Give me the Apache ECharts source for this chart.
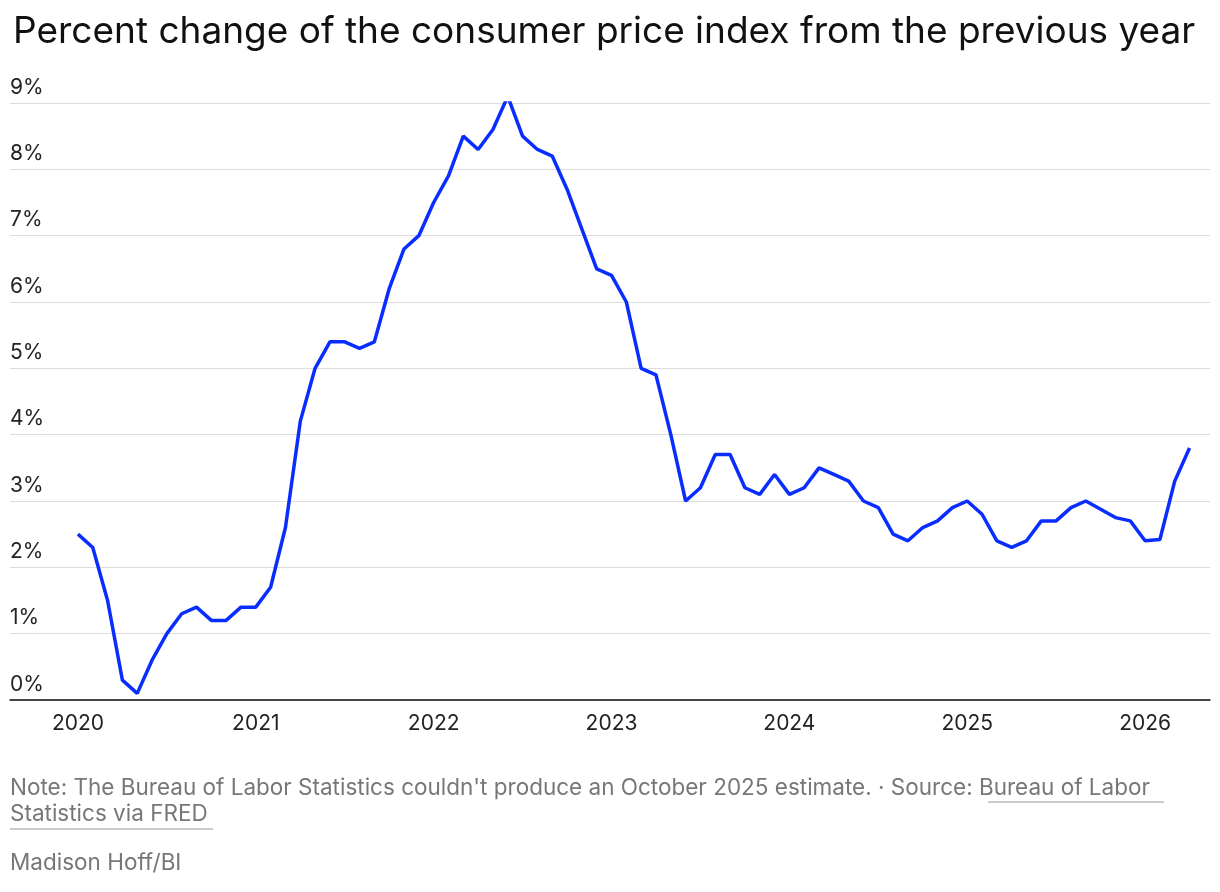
<!DOCTYPE html>
<html><head><meta charset="utf-8">
<script src="https://cdn.jsdelivr.net/npm/echarts@6/dist/echarts.min.js"></script>
<style>html,body{margin:0;padding:0;background:#fff}#c{width:1220px;height:892px}</style>
</head><body><div id="c"></div>
<script>
const years = [2020, 2021, 2022, 2023, 2024, 2025, 2026];
const yTicks = [0,1,2,3,4,5,6,7,8,9];
// monthly values Jan 2020 .. Apr 2026 (Oct 2025 missing)
const cpi = [
 2.5,2.3,1.5,0.3,0.1,0.6,1.0,1.3,1.4,1.2,1.2,1.4,
 1.4,1.7,2.6,4.2,5.0,5.4,5.4,5.3,5.4,6.2,6.8,7.0,
 7.5,7.9,8.5,8.3,8.6,9.1,8.5,8.3,8.2,7.7,7.1,6.5,
 6.4,6.0,5.0,4.9,4.0,3.0,3.2,3.7,3.7,3.2,3.1,3.4,
 3.1,3.2,3.5,3.4,3.3,3.0,2.9,2.5,2.4,2.6,2.7,2.9,
 3.0,2.8,2.4,2.3,2.4,2.7,2.7,2.9,3.0,null,2.75,2.7,
 2.4,2.42,3.3,3.8
];
const data = cpi.map((v,i)=>[2020 + i/12, v]);
const ch = echarts.init(document.getElementById('c'));
const F = 'Inter, "Noto Sans", sans-serif';
ch.setOption({
  animation:false,
  textStyle:{fontFamily:F},
  title:{text:'Percent change of the consumer price index from the previous year',left:8,top:8,
    textStyle:{fontSize:37,fontWeight:'normal',color:'#111',fontFamily:F}},
  grid:{left:10,right:10,top:103,bottom:192},
  xAxis:{type:'value',min:2019.618,max:2026.365,
    axisLine:{show:true,lineStyle:{color:'#111',width:1.5}},
    axisTick:{show:false},splitLine:{show:false},
    axisLabel:{customValues:years,color:'#222',fontSize:21,margin:13,formatter:v=>String(Math.round(v))}},
  yAxis:{type:'value',min:0,max:9,interval:1,
    axisLine:{show:false},axisTick:{show:false},
    splitLine:{lineStyle:{color:'#ddd',width:1}},
    axisLabel:{inside:true,verticalAlign:'bottom',margin:0,padding:[0,0,5,0],color:'#222',fontSize:21,formatter:v=>v+'%'}},
  series:[{type:'line',data:data,connectNulls:true,symbol:'none',
    lineStyle:{color:'#0a2dff',width:3.5}}],
  graphic:[
    {type:'text',left:10,top:777,style:{text:"Note: The Bureau of Labor Statistics couldn't produce an October 2025 estimate. · Source: Bureau of Labor",fill:'#777',fontSize:22.5,fontFamily:F}},
    {type:'text',left:10,top:803,style:{text:"Statistics via FRED",fill:'#777',fontSize:22.5,fontFamily:F}},
    {type:'text',left:10,top:852,style:{text:"Madison Hoff/BI",fill:'#777',fontSize:22.5,fontFamily:F}},
    {type:'line',shape:{x1:988,y1:802,x2:1164,y2:802},style:{stroke:'#999',lineWidth:1}},
    {type:'line',shape:{x1:10,y1:829,x2:213,y2:829},style:{stroke:'#999',lineWidth:1}}
  ]
});
</script></body></html>
